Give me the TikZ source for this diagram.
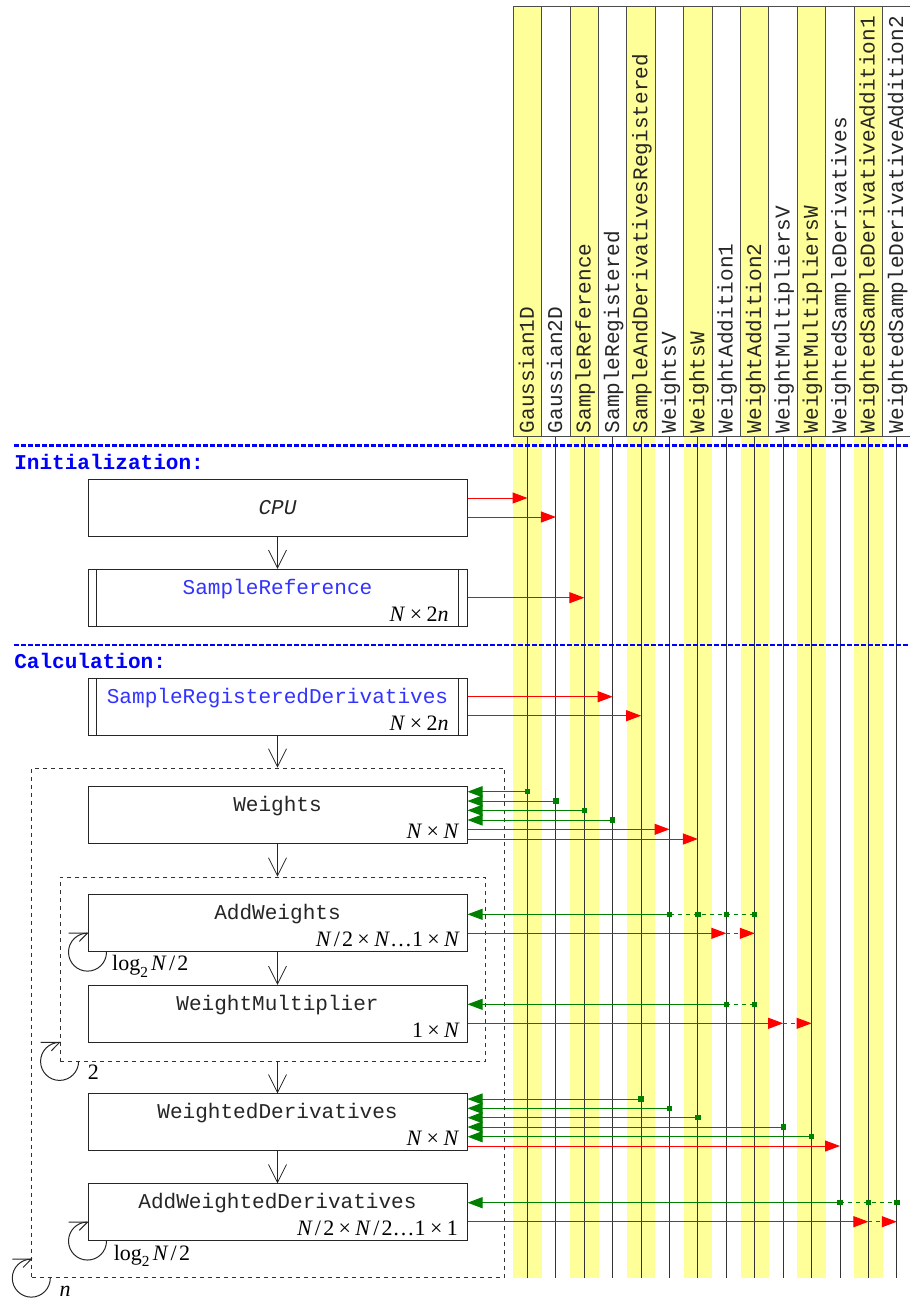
\documentclass[tikz,border=0pt]{standalone}
\usepackage{fontspec}
\setmainfont{Liberation Serif}
\newfontfamily\cour{Liberation Mono}
\usetikzlibrary{arrows.meta}
\definecolor{hdryellow}{RGB}{255,255,153}
\definecolor{dgreen}{RGB}{0,128,0}
\definecolor{lblue}{RGB}{51,51,255}
\newcommand{\tms}{\hspace{0.2em}×\hspace{0.2em}}
\newcommand{\sla}{\hspace{0.1em}/\hspace{0.1em}}
\newcommand{\lgtwo}{log\raisebox{-0.3em}{\fontsize{11.5pt}{10pt}\selectfont 2}\hspace{0.15em}}
\newcommand{\inarrow}[3]{\draw[inarr] (#1.east |- 0,-#3) -- (c#2 |- 0,-#3) node[port] (p#1#2) {};}
\newcommand{\outarrow}[3]{\draw[outarr] (#1.east |- 0,-#3) -- (c#2 |- 0,-#3);}
\tikzset{
  procbox/.style={draw=black!85, fill=white, line width=0.75pt, minimum width=284.25pt, minimum height=42.5pt, inner sep=0pt},
  ttxt/.style={font=\cour\fontsize{15.8pt}{18pt}\selectfont, text=black!85, inner sep=0pt, anchor=base},
  bluetxt/.style={ttxt, text=lblue},
  dimtxt/.style={font=\fontsize{16.5pt}{19pt}\selectfont, inner sep=0pt, anchor=base east},
  looptxt/.style={font=\fontsize{16.5pt}{19pt}\selectfont, inner sep=0pt, anchor=base west},
  hdrtxt/.style={font=\cour\fontsize{15.8pt}{18pt}\selectfont, text=black!85, inner sep=0pt, rotate=90, anchor=base west},
  hdrbox/.style={draw=black!70, line width=0.75pt},
  colline/.style={draw=black!80, line width=0.75pt},
  flow/.style={-{Straight Barb[length=13.5pt,width=13.5pt]}, line width=0.6pt, black!85},
  outarr/.style={red, line width=0.75pt, -{Triangle[length=11.25pt,width=8.25pt]}},
  inarr/.style={dgreen, line width=0.75pt, {Triangle[length=11.25pt,width=8.25pt]}-},
  altdash/.style={dash pattern=on 3pt off 3pt},
  port/.style={fill=dgreen, minimum size=4pt, inner sep=0pt, draw=none},
  sect/.style={blue, line width=2pt, dash pattern=on 3.5pt off 1.75pt},
  secttxt/.style={font=\cour\bfseries\fontsize{15.8pt}{18pt}\selectfont, text=blue, inner sep=0pt, anchor=base west},
  grp/.style={draw=black!80, dashed, line width=0.6pt, inner sep=0pt},
  loopline/.style={line width=0.75pt, black!85},
}
\begin{document}
\begin{tikzpicture}[x=0.75pt,y=0.75pt]
\useasboundingbox (0,0) rectangle (910,-1304);

% ---- columns ----
\foreach \i/\fc in {1/hdryellow,2/white,3/hdryellow,4/white,5/hdryellow,6/white,7/hdryellow,8/white,9/hdryellow,10/white,11/hdryellow,12/white,13/hdryellow,14/white}{
  \pgfmathsetmacro\xl{513.3+28.41*(\i-1)}
  \fill[\fc] (\xl,-6.7) rectangle (\xl+28.41,-1277.7);
}
\foreach \i/\nm in {1/Gaussian1D,2/Gaussian2D,3/SampleReference,4/SampleRegistered,5/SampleAndDerivativesRegistered,6/WeightsV,7/WeightsW,8/WeightAddition1,9/WeightAddition2,10/WeightMultipliersV,11/WeightMultipliersW,12/WeightedSampleDerivatives,13/WeightedSampleDerivativeAddition1,14/WeightedSampleDerivativeAddition2}{
  \pgfmathsetmacro\xl{513.3+28.41*(\i-1)}
  \pgfmathsetmacro\xc{\xl+14.205}
  \draw[hdrbox] (\xl,-6.7) rectangle (\xl+28.41,-436.7);
  \coordinate (c\i) at (\xc,-436.7);
  \node[hdrtxt] (h\i) at (\xc+6.3,-433.5) {\nm};
}
\foreach \i in {1,...,14}{
  \draw[colline] (c\i) -- (c\i |- 0,-1277.7);
}

% ---- section separators ----
\draw[sect] (14,-445.7) -- (910,-445.7);
\draw[sect] (14,-645) -- (910,-645);
\node[secttxt] (init) at (14,-469) {Initialization:};
\node[secttxt] (calc) at (14,-668) {Calculation:};

% ---- group boxes ----
\node[grp, minimum width=354.45pt, minimum height=382.3pt] (outer) at (268,-1022.85) {};
\node[grp, minimum width=319.3pt, minimum height=138pt] (inner) at (272.85,-969) {};

% ---- process boxes ----
\node[procbox] (cpu)  at (277.5,-507.7) {};
\node[procbox] (sref) at (277.5,-597.7) {};
\node[procbox] (srd)  at (277.5,-706.7) {};
\node[procbox] (wts)  at (277.5,-815) {};
\node[procbox] (aw)   at (277.5,-923.3) {};
\node[procbox] (wm)   at (277.5,-1013.8) {};
\node[procbox] (wd)   at (277.5,-1122.3) {};
\node[procbox] (awd)  at (277.5,-1212.2) {};

\foreach \b in {sref,srd}{
  \draw[black!85, line width=0.75pt] ([xshift=7.1pt]\b.north west) -- ([xshift=7.1pt]\b.south west);
  \draw[black!85, line width=0.75pt] ([xshift=-7.1pt]\b.north east) -- ([xshift=-7.1pt]\b.south east);
}

% ---- box texts ----
\node[font=\cour\itshape\fontsize{15.8pt}{18pt}\selectfont, text=black!85, inner sep=0pt] (tcpu) at (cpu.center) {CPU};
\node[bluetxt] (tsref) at ([yshift=-19pt]sref.north) {SampleReference};
\node[bluetxt] (tsrd)  at ([yshift=-19pt]srd.north) {SampleRegisteredDerivatives};
\node[ttxt] (twts) at ([yshift=-19pt]wts.north) {Weights};
\node[ttxt] (taw)  at ([yshift=-19pt]aw.north) {AddWeights};
\node[ttxt] (twm)  at ([yshift=-19pt]wm.north) {WeightMultiplier};
\node[ttxt] (twd)  at ([yshift=-19pt]wd.north) {WeightedDerivatives};
\node[ttxt] (tawd) at ([yshift=-19pt]awd.north) {AddWeightedDerivatives};

\node[dimtxt] (dsref) at ([xshift=-14pt,yshift=3.6pt]sref.south east) {\textit{N}\tms2\textit{n}};
\node[dimtxt] (dsrd)  at ([xshift=-14pt,yshift=3.6pt]srd.south east) {\textit{N}\tms2\textit{n}};
\node[dimtxt] (dwts)  at ([xshift=-6pt,yshift=4pt]wts.south east) {\textit{N}\tms\textit{N}};
\node[dimtxt] (daw)   at ([xshift=-5.5pt,yshift=4pt]aw.south east) {\textit{N}\sla2\tms\textit{N}…1\tms\textit{N}};
\node[dimtxt] (dwm)   at ([xshift=-5.5pt,yshift=4pt]wm.south east) {1\tms\textit{N}};
\node[dimtxt] (dwd)   at ([xshift=-6pt,yshift=4pt]wd.south east) {\textit{N}\tms\textit{N}};
\node[dimtxt] (dawd)  at ([xshift=-7pt,yshift=4pt]awd.south east) {\textit{N}\sla2\tms\textit{N}\sla2…1\tms1};

% ---- control flow ----
\draw[flow] (cpu.south) -- (sref.north);
\draw[flow] (srd.south) -- (srd.south |- outer.north);
\draw[flow] (wts.south) -- (wts.south |- inner.north);
\draw[flow] (aw.south) -- (wm.north);
\draw[flow] (wd.north |- inner.south) -- (wd.north);
\draw[flow] (wd.south) -- (awd.north);

% ---- loops ----
\foreach \b/\nm in {aw/la, inner/li, awd/lawd, outer/lo}{
  \draw[loopline] ([xshift=14.25pt]\b.south west) arc[start angle=0, end angle=-270, radius=14.25pt];
  \draw[loopline] ([xshift=-14.25pt,yshift=14.25pt]\b.south west) -- ([yshift=14.25pt]\b.south west) -- ([xshift=-6.2pt,yshift=8pt]\b.south west);
}
\node[looptxt] (laL) at ([xshift=18.3pt,yshift=-13.7pt]aw.south west) {\lgtwo\textit{N}\sla2};
\node[looptxt] (liL) at ([xshift=21pt,yshift=-13.7pt]inner.south west) {2};
\node[looptxt] (lawdL) at ([xshift=19.5pt,yshift=-14.5pt]awd.south west) {\lgtwo\textit{N}\sla2};
\node[looptxt] (loL) at ([xshift=21pt,yshift=-13.9pt]outer.south west) {\textit{n}};

% ---- data arrows ----
\outarrow{cpu}{1}{498}
\outarrow{cpu}{2}{517}
\outarrow{sref}{3}{597.7}
\outarrow{srd}{4}{696.7}
\outarrow{srd}{5}{715.7}

\inarrow{wts}{1}{791.7}
\inarrow{wts}{2}{801}
\inarrow{wts}{3}{810.3}
\inarrow{wts}{4}{820}
\outarrow{wts}{6}{829.3}
\outarrow{wts}{7}{839}

% AddWeights
\draw[dgreen, line width=0.75pt, altdash] (c6 |- 0,-914.3) -- (c9 |- 0,-914.3);
\inarrow{aw}{6}{914.3}
\node[port] (paw7) at (c7 |- 0,-914.3) {};
\node[port] (paw8) at (c8 |- 0,-914.3) {};
\node[port] (paw9) at (c9 |- 0,-914.3) {};
\outarrow{aw}{8}{933.3}
\draw[outarr, altdash] (c8 |- 0,-933.3) -- (c9 |- 0,-933.3);

% WeightMultiplier
\draw[dgreen, line width=0.75pt, altdash] (c8 |- 0,-1004.3) -- (c9 |- 0,-1004.3);
\inarrow{wm}{8}{1004.3}
\node[port] (pwm9) at (c9 |- 0,-1004.3) {};
\outarrow{wm}{10}{1023.3}
\draw[outarr, altdash] (c10 |- 0,-1023.3) -- (c11 |- 0,-1023.3);

% WeightedDerivatives
\inarrow{wd}{5}{1099}
\inarrow{wd}{6}{1108.3}
\inarrow{wd}{7}{1117.7}
\inarrow{wd}{10}{1127}
\inarrow{wd}{11}{1136.7}
\outarrow{wd}{12}{1146}

% AddWeightedDerivatives
\draw[dgreen, line width=0.75pt, altdash] (c12 |- 0,-1202.7) -- (c14 |- 0,-1202.7);
\inarrow{awd}{12}{1202.7}
\node[port] (pawd13) at (c13 |- 0,-1202.7) {};
\node[port] (pawd14) at (c14 |- 0,-1202.7) {};
\outarrow{awd}{13}{1221.7}
\draw[outarr, altdash] (c13 |- 0,-1221.7) -- (c14 |- 0,-1221.7);
\end{tikzpicture}
\end{document}
